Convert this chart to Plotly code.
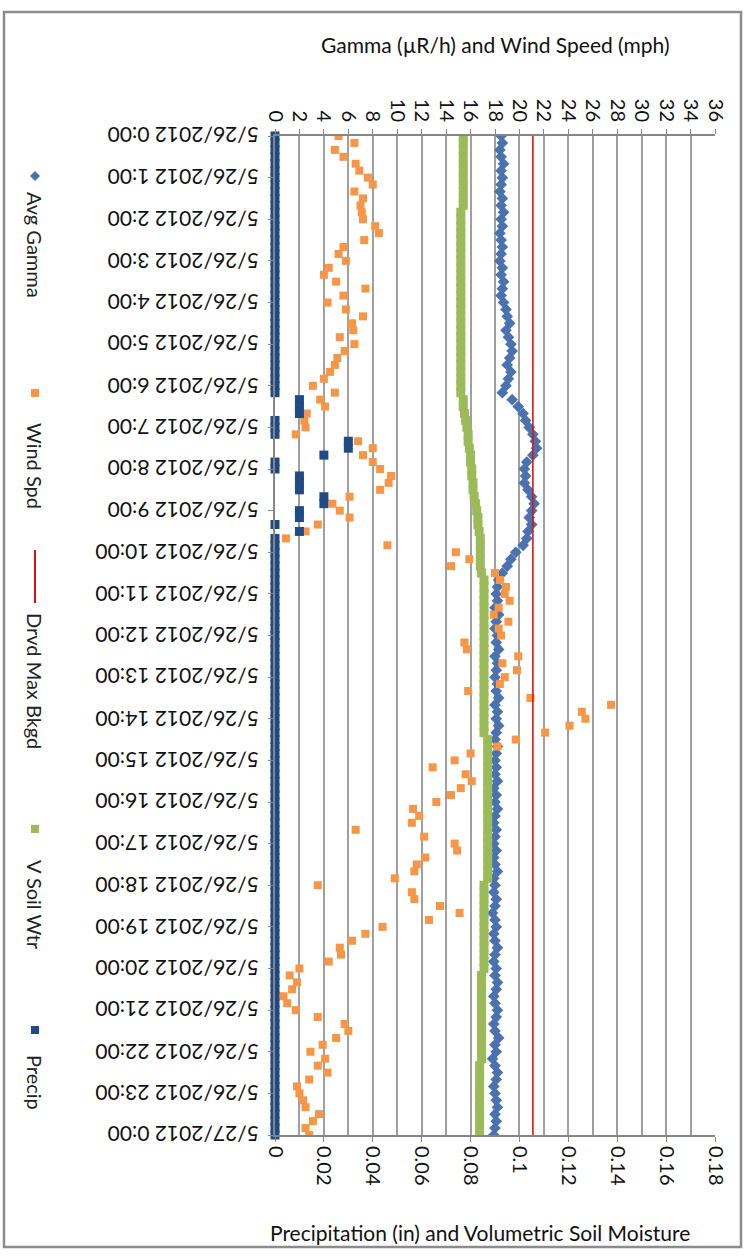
import pandas as pd
import plotly.graph_objects as go

# 10-minute readings, 5/26/2012 0:00 through 5/27/2012 0:00
times = pd.date_range("2012-05-26 00:00", "2012-05-27 00:00", freq="10min")

# Avg Gamma (uR/h), one row per hour
avg_gamma = [
    18.5, 18.6, 18.4, 18.5, 18.7, 18.5,
    18.6, 18.5, 18.4, 18.6, 18.5, 18.7,
    18.5, 18.6, 18.4, 18.5, 18.6, 18.5,
    18.4, 18.6, 18.5, 18.7, 18.6, 18.5,
    18.7, 18.9, 19.0, 19.2, 18.9, 19.1,
    19.3, 19.4, 19.2, 19.0, 19.3, 19.1,
    18.9, 18.6, 19.4, 19.9, 20.3, 20.5,
    20.8, 21.1, 21.3, 21.4, 21.1, 20.6,
    20.4, 20.5, 20.4, 20.7, 21.0, 21.2,
    21.0, 20.8, 21.0, 20.7, 20.6, 20.3,
    19.7, 19.3, 19.0, 18.6, 18.3, 18.2,
    18.1, 18.2, 18.0, 18.3, 18.1, 18.0,
    18.2, 18.1, 18.3, 18.0, 18.2, 18.1,
    18.0, 18.2, 18.1, 18.3, 18.0, 18.2,
    18.1, 18.3, 18.1, 18.0, 18.2, 18.1,
    18.0, 18.1, 18.0, 18.2, 17.9, 18.1,
    18.0, 18.2, 18.0, 17.9, 18.1, 18.0,
    17.9, 18.1, 17.9, 18.0, 18.2, 17.9,
    18.0, 17.9, 18.1, 18.0, 17.8, 18.0,
    18.1, 17.9, 18.0, 18.2, 18.0, 17.9,
    18.1, 18.0, 18.2, 18.1, 17.9, 18.0,
    18.2, 18.1, 17.9, 18.0, 18.3, 18.0,
    18.1, 17.8, 18.0, 18.2, 18.1, 17.9,
    18.0, 18.1, 18.2, 18.0, 18.1, 18.0,
    17.9,
]

# Wind Spd (mph)
wind_spd = [
    5.2, 6.5, 4.9, 5.6, 6.6, 6.9,
    7.6, 8.0, 6.5, 7.2, 7.0, 7.1,
    7.2, 8.2, 8.5, 7.3, 5.6, 5.2,
    5.8, 4.4, 4.0, 5.0, 7.4, 5.6,
    4.3, 5.8, 7.2, 6.3, 6.4, 5.3,
    6.5, 5.7, 5.1, 4.9, 4.5, 4.0,
    3.1, 4.9, 3.7, 4.1, 2.6, 2.4,
    2.5, 1.7, 6.8, 8.0, 7.2, 8.0,
    8.6, 9.5, 9.3, 8.6, 6.1, 4.7,
    5.3, 6.1, 3.5, 2.5, 0.9, 9.2,
    14.8, 15.9, 14.4, 18.0, 18.4, 18.9,
    18.8, 19.2, 18.3, 17.9, 19.1, 18.3,
    18.5, 15.5, 15.7, 19.9, 18.6, 19.8,
    18.8, 18.4, 15.8, 20.9, 27.5, 25.1,
    25.4, 24.1, 22.1, 19.7, 18.2, 16.0,
    14.7, 12.9, 15.6, 16.1, 15.2, 14.4,
    13.2, 11.3, 11.8, 11.2, 6.6, 12.2,
    14.7, 14.9, 12.3, 11.6, 11.4, 9.8,
    3.5, 11.2, 11.4, 13.5, 15.1, 12.6,
    8.8, 7.4, 6.3, 5.3, 5.4, 4.4,
    2.0, 1.2, 1.8, 1.4, 0.7, 1.0,
    1.7, 3.5, 5.7, 6.0, 5.0, 3.9,
    2.9, 4.1, 3.5, 4.3, 2.8, 1.8,
    2.0, 2.3, 2.5, 3.6, 3.1, 2.5,
    2.8,
]

# Drvd Max Bkgd (uR/h), constant over the day
drvd_max_bkgd = 21.1

# V Soil Wtr (volumetric fraction)
v_soil_wtr = [
    0.077, 0.077, 0.077, 0.077, 0.077, 0.077,
    0.077, 0.077, 0.077, 0.077, 0.077, 0.076,
    0.076, 0.076, 0.076, 0.076, 0.076, 0.076,
    0.076, 0.076, 0.076, 0.076, 0.076, 0.076,
    0.076, 0.076, 0.076, 0.076, 0.076, 0.076,
    0.076, 0.076, 0.076, 0.076, 0.076, 0.076,
    0.076, 0.076, 0.077, 0.077, 0.0775, 0.078,
    0.0785, 0.079, 0.079, 0.0795, 0.080, 0.080,
    0.0805, 0.0805, 0.081, 0.081, 0.0815, 0.082,
    0.0825, 0.083, 0.083, 0.0835, 0.084, 0.084,
    0.084, 0.084, 0.084, 0.0845, 0.0855, 0.0855,
    0.0855, 0.0855, 0.0855, 0.0855, 0.0855, 0.0855,
    0.0855, 0.0855, 0.0855, 0.0855, 0.0855, 0.0855,
    0.0855, 0.0855, 0.0855, 0.0855, 0.0855, 0.0855,
    0.0855, 0.0855, 0.0855, 0.087, 0.087, 0.087,
    0.087, 0.087, 0.087, 0.087, 0.087, 0.087,
    0.087, 0.087, 0.087, 0.087, 0.087, 0.087,
    0.087, 0.087, 0.087, 0.087, 0.087, 0.087,
    0.0855, 0.0855, 0.0855, 0.0855, 0.0855, 0.0855,
    0.0855, 0.0855, 0.0855, 0.0855, 0.0855, 0.0855,
    0.0855, 0.0845, 0.0845, 0.0845, 0.0845, 0.0845,
    0.0845, 0.0845, 0.0845, 0.0845, 0.0845, 0.0845,
    0.0845, 0.0845, 0.0837, 0.0837, 0.0837, 0.0837,
    0.0837, 0.0837, 0.0837, 0.0837, 0.0837, 0.0837,
    0.0837,
]

# Precip (in)
precip = [
    0, 0, 0, 0, 0, 0,
    0, 0, 0, 0, 0, 0,
    0, 0, 0, 0, 0, 0,
    0, 0, 0, 0, 0, 0,
    0, 0, 0, 0, 0, 0,
    0, 0, 0, 0, 0, 0,
    0, 0, 0.01, 0.01, 0.01, 0,
    0, 0, 0.03, 0.03, 0.02, 0,
    0, 0.01, 0.01, 0.01, 0.02, 0.02,
    0.01, 0.01, 0, 0.01, 0, 0,
    0, 0, 0, 0, 0, 0,
    0, 0, 0, 0, 0, 0,
    0, 0, 0, 0, 0, 0,
    0, 0, 0, 0, 0, 0,
    0, 0, 0, 0, 0, 0,
    0, 0, 0, 0, 0, 0,
    0, 0, 0, 0, 0, 0,
    0, 0, 0, 0, 0, 0,
    0, 0, 0, 0, 0, 0,
    0, 0, 0, 0, 0, 0,
    0, 0, 0, 0, 0, 0,
    0, 0, 0, 0, 0, 0,
    0, 0, 0, 0, 0, 0,
    0, 0, 0, 0, 0, 0,
    0,
]

# Hourly tick labels for the time axis
hour_ticks = pd.date_range("2012-05-26 00:00", "2012-05-27 00:00", freq="1h")
hour_labels = [f"{t.month}/{t.day}/{t.year} {t.hour}:00" for t in hour_ticks]

series_names = ["Avg Gamma", "Wind Spd", "Drvd Max Bkgd", "V Soil Wtr", "Precip"]
C_GAMMA = "#4A72B0"
C_WIND = "#F79646"
C_BKGD = "#E01010"
C_SOIL = "#9BBB59"
C_PRECIP = "#1F4A85"

FONT = "Lato"
W, H = 750, 1257
ML, MR, MT, MB = 275, 35, 136, 122
PW, PH = W - ML - MR, H - MT - MB


def px(x):
    return (x - ML) / PW


def py(y):
    return 1 - (y - MT) / PH


fig = go.Figure()

fig.add_trace(go.Scatter(
    x=avg_gamma, y=times, mode="markers", name=series_names[0], xaxis="x", yaxis="y",
    marker=dict(symbol="diamond", size=9, color=C_GAMMA)))
fig.add_trace(go.Scatter(
    x=wind_spd, y=times, mode="markers", name=series_names[1], xaxis="x", yaxis="y",
    marker=dict(symbol="square", size=8, color=C_WIND)))
fig.add_trace(go.Scatter(
    x=[drvd_max_bkgd, drvd_max_bkgd], y=[times[0], times[-1]], mode="lines",
    name=series_names[2], xaxis="x", yaxis="y",
    line=dict(color=C_BKGD, width=1.6)))
fig.add_trace(go.Scatter(
    x=v_soil_wtr, y=times, mode="markers", name=series_names[3], xaxis="x2", yaxis="y",
    marker=dict(symbol="square", size=9, color=C_SOIL)))
fig.add_trace(go.Scatter(
    x=precip, y=times, mode="markers", name=series_names[4], xaxis="x2", yaxis="y",
    cliponaxis=False,
    marker=dict(symbol="square", size=9, color=C_PRECIP)))

axis_line = "#868686"
fig.update_layout(
    width=W, height=H,
    margin=dict(l=ML, r=MR, t=MT, b=MB),
    paper_bgcolor="white", plot_bgcolor="white",
    showlegend=False,
    font=dict(family=FONT, color="#111111"),
    xaxis=dict(
        side="top", range=[0, 36], dtick=2, tick0=0,
        showgrid=True, gridcolor="#A0A0A0", gridwidth=1.5,
        zeroline=False, showline=True, linecolor=axis_line, linewidth=2,
        ticks="outside", ticklen=5, tickcolor=axis_line,
        tickangle=90, tickfont=dict(size=20, family=FONT, color="#111111"),
    ),
    xaxis2=dict(
        overlaying="x", side="bottom", range=[0, 0.18], dtick=0.02, tick0=0,
        showgrid=False, zeroline=False, showline=True, linecolor=axis_line, linewidth=2,
        ticks="outside", ticklen=5, tickcolor=axis_line,
        tickangle=90, tickfont=dict(size=20, family=FONT, color="#111111"),
    ),
    yaxis=dict(
        type="date", range=[times[-1], times[0]],
        tickvals=list(hour_ticks), showticklabels=False,
        showgrid=False, zeroline=False, showline=True, linecolor=axis_line, linewidth=2,
        ticks="outside", ticklen=5, tickcolor=axis_line,
    ),
)

annotations = [
    dict(text="Gamma (\u00b5R/h) and Wind Speed (mph)", x=px(495), y=py(45),
         xref="paper", yref="paper", showarrow=False, xanchor="center", yanchor="middle",
         font=dict(size=21, family=FONT, color="#111111")),
    dict(text="Precipitation (in) and Volumetric Soil Moisture", x=px(480), y=py(1232),
         xref="paper", yref="paper", showarrow=False, xanchor="center", yanchor="middle",
         font=dict(size=21, family=FONT, color="#111111")),
]

# time-axis labels, turned upside down beside each hourly tick
for tv, lab in zip(hour_ticks, hour_labels):
    annotations.append(dict(
        text=lab, x=px(261), y=tv, xref="paper", yref="y", showarrow=False,
        textangle=180, xanchor="right", yanchor="middle",
        font=dict(size=21, family=FONT, color="#111111")))

# legend, drawn rotated down the left edge
legend_text_y = [245, 466, 681, 905, 1082]
for name, ty in zip(series_names, legend_text_y):
    annotations.append(dict(
        text=name, x=px(35), y=py(ty), xref="paper", yref="paper", showarrow=False,
        textangle=90, xanchor="center", yanchor="middle",
        font=dict(size=20, family=FONT, color="#222222")))

shapes = [
    # legend keys
    dict(type="path", xref="paper", yref="paper",
         path=f"M {px(35)} {py(171)} L {px(40)} {py(176)} L {px(35)} {py(181)} L {px(30)} {py(176)} Z",
         fillcolor=C_GAMMA, line=dict(width=0)),
    dict(type="rect", xref="paper", yref="paper", x0=px(31), x1=px(39), y0=py(389), y1=py(397),
         fillcolor=C_WIND, line=dict(width=0)),
    dict(type="line", xref="paper", yref="paper", x0=px(35), x1=px(35), y0=py(550), y1=py(603),
         line=dict(color=C_BKGD, width=2)),
    dict(type="rect", xref="paper", yref="paper", x0=px(31), x1=px(39), y0=py(825), y1=py(833),
         fillcolor=C_SOIL, line=dict(width=0)),
    dict(type="rect", xref="paper", yref="paper", x0=px(31), x1=px(39), y0=py(1026), y1=py(1034),
         fillcolor=C_PRECIP, line=dict(width=0)),
    # chart frame
    dict(type="rect", xref="paper", yref="paper", x0=px(4), x1=px(741), y0=py(12), y1=py(1247),
         line=dict(color="#8C8C8C", width=2.5), fillcolor="rgba(0,0,0,0)", layer="below"),
]

fig.update_layout(annotations=annotations, shapes=shapes)
fig.write_html("out.html")
